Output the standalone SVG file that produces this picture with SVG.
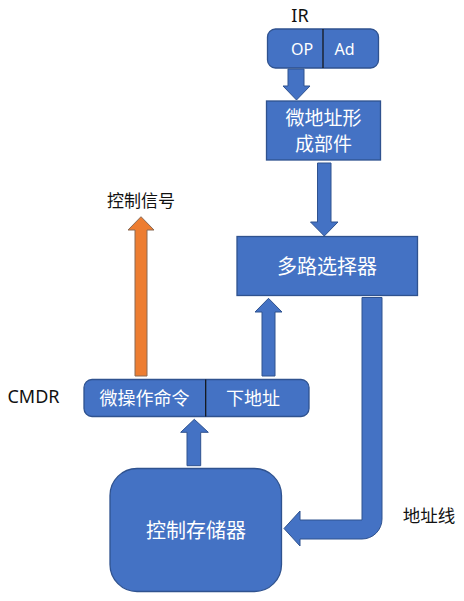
<svg xmlns="http://www.w3.org/2000/svg" width="464" height="601" viewBox="0 0 464 601">
<style>
.box{fill:#4472C4;stroke:#2F528F;stroke-width:1.3}
.arr{fill:#4472C4;stroke:#2F528F;stroke-width:1}
.org{fill:#ED7D31;stroke:#8A6A55;stroke-width:1}
.div{stroke:#111;stroke-width:1.2}
.w{fill:#fff;font-family:"Noto Sans","Noto Sans CJK SC",sans-serif;text-anchor:middle;dominant-baseline:central}
.k{fill:#111;font-family:"Noto Sans","Noto Sans CJK SC",sans-serif;text-anchor:middle;dominant-baseline:central}
</style>
<rect width="464" height="601" fill="#fff"/>
<g id="connectors">
<path class="arr" d="M288,69 H304 V86 H310 L296.5,100 L283,86 H288 Z"/>
<path class="arr" d="M317.5,163 H331 V222 H338 L324.3,236 L310.5,222 H317.5 Z"/>
<path class="org" d="M135,376 V230 H128 L141,216.7 L154,230 H147 V376 Z"/>
<path class="arr" d="M262,376 V312 H255 L268.5,298.3 L282,312 H275 V376 Z"/>
<path class="arr" d="M187,465.7 V432.3 H180.7 L194.3,419.3 L208.3,432.3 H200.7 V465.7 Z"/>
<path class="arr" d="M362,297.5 V520 H300 V511 L284,528.5 L300,546 V539 H362 A20,20 0 0 0 382,519 V297.5 Z"/>
</g>
<g id="IR">
<text class="k" x="300" y="14.5" font-size="18">IR</text>
<rect class="box" x="267.5" y="29" width="111" height="39" rx="8"/>
<line class="div" x1="323" y1="29" x2="323" y2="68"/>
<text class="w" x="302" y="49" font-size="16">OP</text>
<text class="w" x="344.5" y="49" font-size="16">Ad</text>
</g>
<g id="micro-addr">
<rect class="box" x="266.5" y="101" width="114" height="59"/>
<text class="w" x="323.5" y="118" font-size="19">微地址形</text>
<text class="w" x="323.5" y="144" font-size="19">成部件</text>
</g>
<g id="mux">
<rect class="box" x="237" y="236.5" width="180.5" height="59"/>
<text class="w" x="327" y="266.5" font-size="20">多路选择器</text>
</g>
<g id="ctrl-signal">
<text class="k" x="141" y="200" font-size="17">控制信号</text>
</g>
<g id="CMDR">
<text class="k" x="33.5" y="396" font-size="18">CMDR</text>
<rect class="box" x="84" y="379.5" width="225" height="37" rx="8"/>
<line class="div" x1="205.7" y1="379.5" x2="205.7" y2="416.5"/>
<text class="w" x="144.5" y="398" font-size="18">微操作命令</text>
<text class="w" x="253" y="398" font-size="18">下地址</text>
</g>
<g id="ctrl-store">
<rect class="box" x="110" y="468.5" width="171.5" height="123" rx="27"/>
<text class="w" x="196" y="530" font-size="20">控制存储器</text>
</g>
<g id="addr-line">
<text class="k" x="429" y="514.5" font-size="17.5">地址线</text>
</g>
</svg>
